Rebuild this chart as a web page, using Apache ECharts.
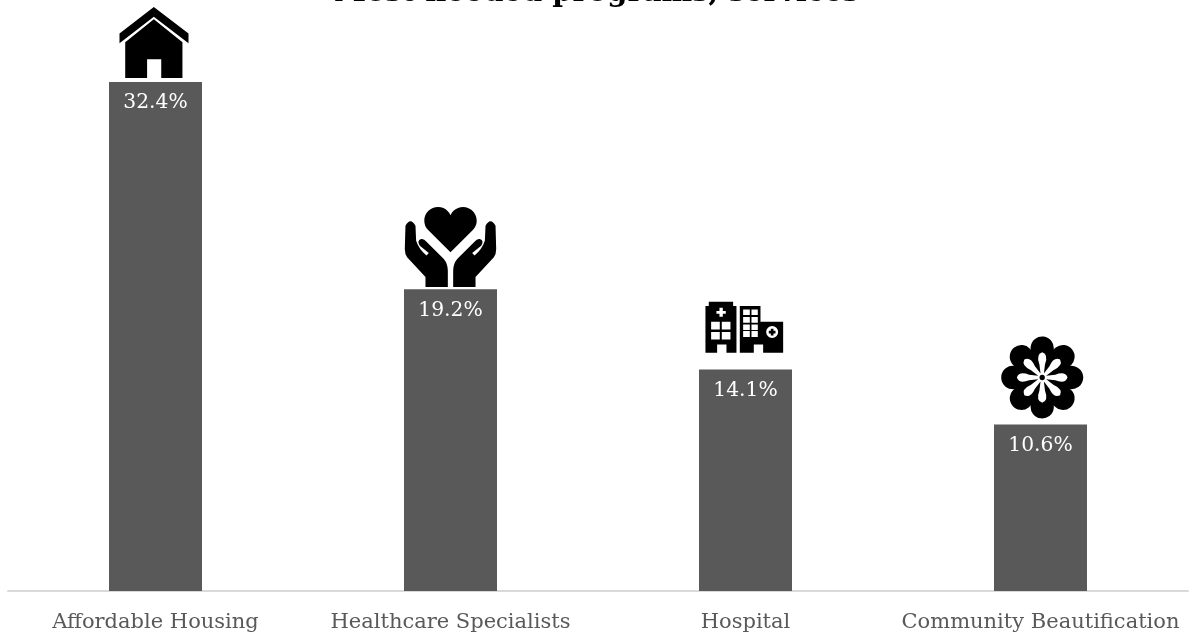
<!DOCTYPE html>
<html><head><meta charset="utf-8">
<style>html,body{margin:0;padding:0;background:#fff}#c{width:1193px;height:637px}</style>
<script src="https://cdn.jsdelivr.net/npm/echarts@6/dist/echarts.min.js"></script>
</head><body><div id="c"></div>
<script>
const chartTitle = 'Most needed programs, services';
const categories = ['Affordable Housing','Healthcare Specialists','Hospital','Community Beautification'];
const shares = [32.4,19.2,14.1,10.6];

const housePath = 'path://M88,100 L190,20 L293,100 L293,130 L190,50 L88,130 Z M190,57 L275,127 L275,235 L212,235 L212,178 L170,178 L170,235 L105,235 L105,127 Z';
const handsPath = 'path://M180,170 L113,103 A41,41 0 1 1 180,58 A41,41 0 1 1 247,103 Z ' +
 'M45,90 Q60,62 75,90 L77,135 Q85,160 108,180 L115,172 L88,150 Q78,135 92,130 Q100,128 108,138 L160,190 Q172,205 172,225 L172,275 L105,275 L105,245 L50,185 Q43,175 43,160 Z ' +
 'M315,90 Q300,62 285,90 L283,135 Q275,160 252,180 L245,172 L272,150 Q282,135 268,130 Q260,128 252,138 L200,190 Q188,205 188,225 L188,275 L255,275 L255,245 L310,185 Q317,175 317,160 Z';
const rectHole = (a,b,c,d) => `M${a},${b} L${a},${d} L${c},${d} L${c},${b} Z `;
const hospitalPath = 'path://M45,50 L55,50 L55,37 L128,37 L128,50 L138,50 L138,190 L108,190 L108,165 L80,165 L80,190 L45,190 Z ' +
 'M87,55 L87,65 L78,65 L78,73 L87,73 L87,82 L97,82 L97,73 L106,73 L106,65 L97,65 L97,55 Z ' +
 rectHole(62,97,88,120)+rectHole(94,97,120,120)+rectHole(62,128,88,150)+rectHole(94,128,120,150) +
 'M148,50 L210,50 L210,97 L278,97 L278,190 L218,190 L218,165 L190,165 L190,190 L148,190 Z ' +
 rectHole(158,60,178,77)+rectHole(183,60,202,77)+rectHole(158,83,178,100)+rectHole(183,83,202,100)+
 rectHole(158,105,178,122)+rectHole(183,105,202,122)+rectHole(158,125,178,143)+rectHole(183,125,202,143)+
 'M245,110 A18,18 0 1 0 245,146 A18,18 0 1 0 245,110 Z ' +
 'M241,118 L249,118 L249,124 L255,124 L255,132 L249,132 L249,138 L241,138 L241,132 L235,132 L235,124 L241,124 Z';
function flowerPath(){
  const cx=170, cy=160, pt=(r,deg)=>{const t=deg*Math.PI/180;return (cx+r*Math.cos(t)).toFixed(1)+','+(cy+r*Math.sin(t)).toFixed(1)};
  let d='M'+pt(72,-22.5)+' ';
  for(let i=0;i<8;i++) d+=`A35,35 0 1 1 ${pt(72,-22.5+45*(i+1))} `;
  d+='Z ';
  d+='M'+pt(13,22.5)+' ';
  for(let i=0;i<8;i++){
    const a=-45*i;
    d+=`L${pt(40,a+12)} Q${pt(72,a+16)} ${pt(76,a)} Q${pt(72,a-16)} ${pt(40,a-12)} L${pt(13,a-22.5)} `;
  }
  d+='Z ';
  d+='M'+pt(8,0)+' A8,8 0 1 1 '+pt(8,180)+' A8,8 0 1 1 '+pt(8,0)+' Z';
  return 'path://'+d;
}
const icons = [housePath,handsPath,hospitalPath,flowerPath()];
const iconSizes = [[69,71],[91.4,80],[77.7,51],[82,82]];
const iconOffsets = [[-1.5,-39.5],[0,-42.3],[-1.2,-42.2],[1.7,-47]];

const font = '"DejaVu Serif"';
const chart = echarts.init(document.getElementById('c'),null,{renderer:'canvas'});
chart.setOption({
  animation:false,
  backgroundColor:'#fff',
  title:{text:chartTitle,left:'center',top:-21,padding:0,textStyle:{fontFamily:font,fontWeight:'bold',fontSize:29,color:'#000'}},
  grid:{left:8,width:1180,top:25.4,bottom:46},
  xAxis:{type:'category',data:categories,axisTick:{show:false},
    axisLine:{lineStyle:{color:'#d9d9d9',width:2}},
    axisLabel:{interval:0,fontFamily:font,fontSize:21,color:'#595959',margin:21}},
  yAxis:{type:'value',min:0,max:36,show:false},
  series:[
    {type:'bar',data:shares,barWidth:93,itemStyle:{color:'#595959'},
     label:{show:true,position:'insideTop',distance:11,color:'#fff',fontFamily:font,fontSize:20.3,formatter:p=>p.value.toFixed(1)+'%'}},
    {type:'scatter',silent:true,z:5,
     data:shares.map((v,i)=>({value:v,symbol:icons[i],symbolSize:iconSizes[i],symbolOffset:iconOffsets[i]})),
     itemStyle:{color:'#000',opacity:1}}
  ]
});
</script></body></html>
